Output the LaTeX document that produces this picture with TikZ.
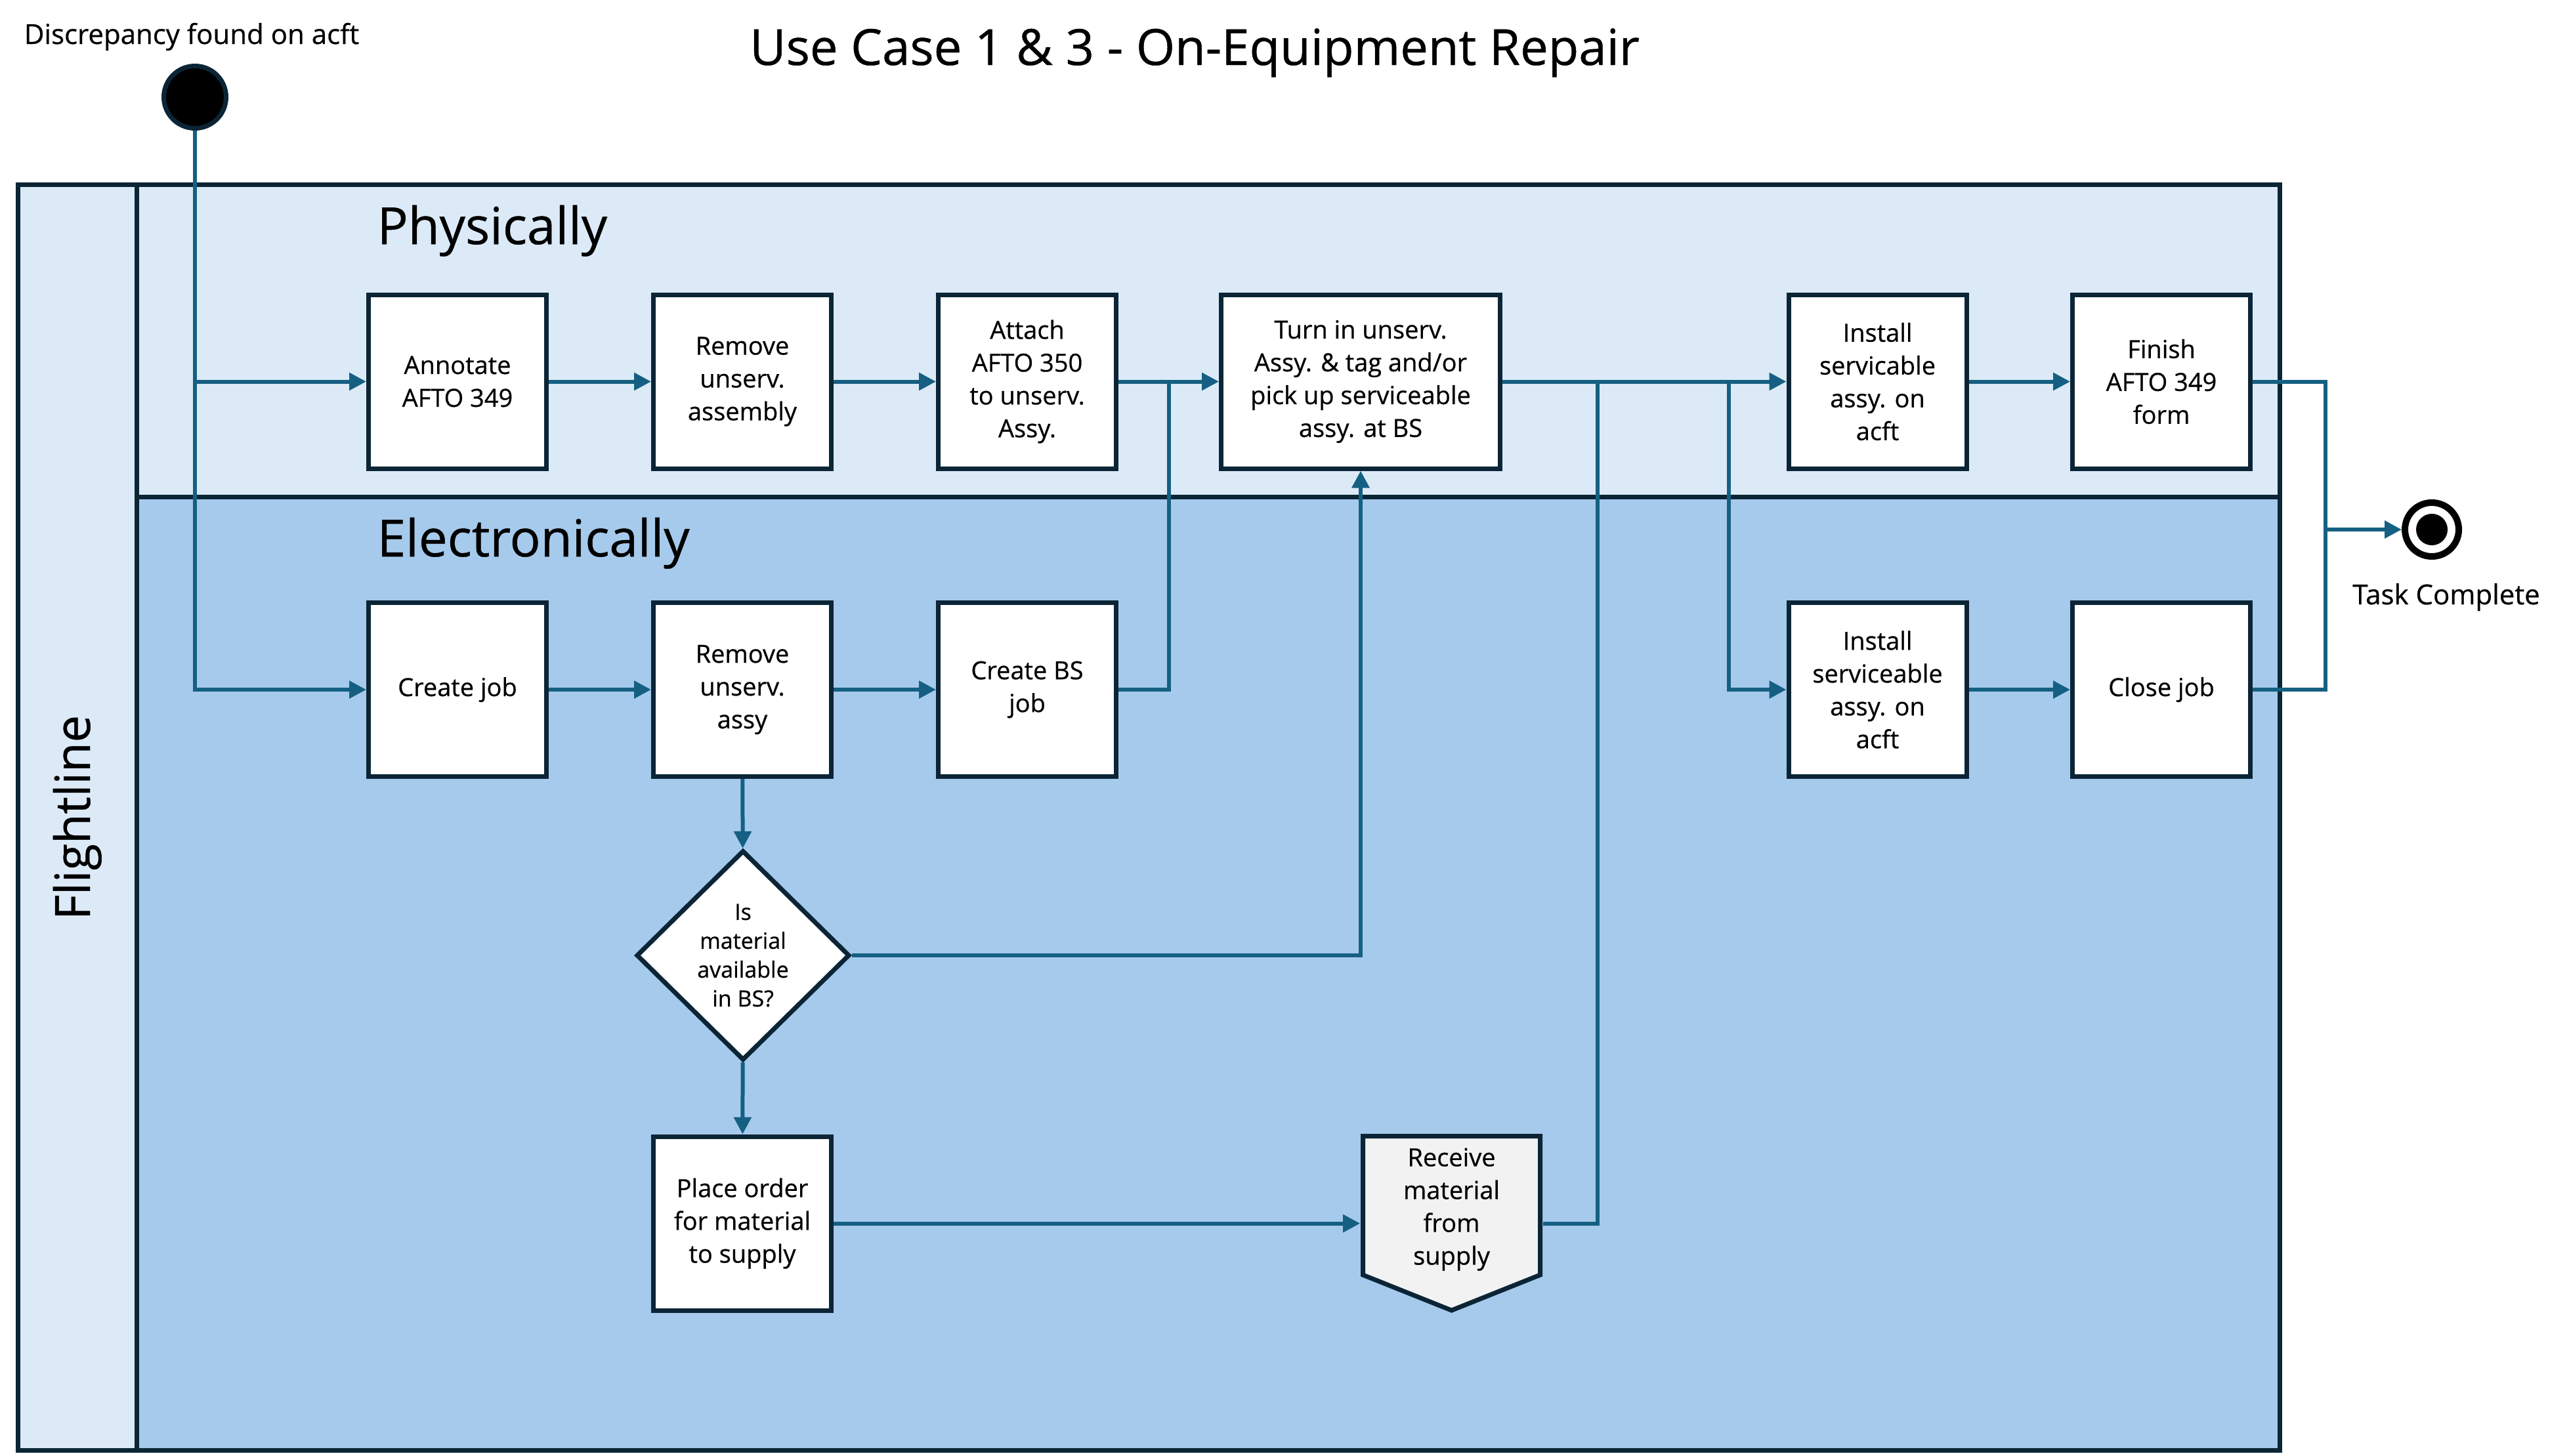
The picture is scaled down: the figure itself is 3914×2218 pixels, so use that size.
\documentclass[tikz,border=0pt]{standalone}
\usepackage{fontspec}
\setmainfont{Open Sans}[FakeBold=0.6]
\usetikzlibrary{arrows.meta,shapes.geometric}
\definecolor{edge}{HTML}{0B2536}
\definecolor{conn}{HTML}{156082}
\definecolor{lanelight}{HTML}{DCEAF7}
\definecolor{lanedark}{HTML}{A6CAEC}
\definecolor{recvfill}{HTML}{F2F2F2}
\tikzset{
  stepbox/.style={draw=edge, line width=1.75pt, fill=white, rectangle, align=center,
    minimum width=67.75pt, minimum height=66.25pt, inner sep=0pt,
    font=\fontsize{9.5}{12.5}\selectfont},
  widebox/.style={stepbox, minimum width=106.25pt},
  decide/.style={draw=edge, line width=1.75pt, fill=white, diamond, align=center,
    minimum width=81.25pt, minimum height=80pt, inner sep=0pt,
    font=\fontsize{8.5}{11}\selectfont},
  conn/.style={draw=conn, line width=1.5pt},
  arr/.style={conn, -{Triangle[length=6.5pt,width=6.5pt]}},
  frame/.style={draw=edge, line width=1.75pt},
  label/.style={font=\fontsize{10.5}{13}\selectfont},
  lanetitle/.style={font=\fontsize{19.5}{23}\selectfont},
}
\begin{document}
\begin{tikzpicture}[x=0.25pt,y=-0.25pt]
\useasboundingbox (0,0) rectangle (3914,2218);
% lanes
\fill[lanelight] (27,281) rectangle (208,2210);
\fill[lanelight] (208,281) rectangle (3473,757);
\fill[lanedark] (208,757) rectangle (3473,2210);
\draw[frame] (27,281) rectangle (3473,2210);
\draw[frame] (208,281) -- (208,2210);
\draw[frame] (208,757) -- (3473,757);
% titles
\node[anchor=base, font=\fontsize{19}{23}\selectfont] (title) at (1820,99) {Use Case 1 \& 3 - On-Equipment Repair};
\node[label, anchor=base] (disc) at (292,67) {Discrepancy found on acft};
\node[lanetitle, anchor=base west, inner sep=0pt] (phys) at (574,372) {Physically};
\node[lanetitle, anchor=base west, inner sep=0pt] (elec) at (574,848) {Electronically};
\node[font=\fontsize{18.5}{22}\selectfont, rotate=90, anchor=base, inner sep=0pt] (flight) at (137,1246) {Flightline};
\node[label, anchor=base] (tasklbl) at (3727,921) {Task Complete};
% start / end
\node[circle, draw=edge, line width=1.75pt, fill=black, minimum size=23.75pt, inner sep=0pt] (start) at (297,148) {};
\node[circle, draw=black, line width=2.5pt, fill=white, minimum size=20.5pt, inner sep=0pt] (endc) at (3705,807) {};
\fill[black] (endc.center) circle[radius=24];
% boxes row 1
\node[stepbox] (annot) at (697,581.5) {Annotate\\AFTO 349};
\node[stepbox] (remove1) at (1131,581.5) {Remove\\unserv.\\assembly};
\node[stepbox] (attach) at (1565,581.5) {Attach\\AFTO 350\\to unserv.\\Assy.};
\node[widebox] (turnin) at (2073,581.5) {Turn in unserv.\\Assy. \& tag and/or\\pick up serviceable\\assy. at BS};
\node[stepbox] (install1) at (2860.5,581.5) {Install\\servicable\\assy. on\\acft};
\node[stepbox] (finish) at (3293,581.5) {Finish\\AFTO 349\\form};
% boxes row 2
\node[stepbox] (createjob) at (697,1051) {Create job};
\node[stepbox] (remove2) at (1131,1051) {Remove\\unserv.\\assy};
\node[stepbox] (createbs) at (1565,1051) {Create BS\\job};
\node[stepbox] (install2) at (2860.5,1051) {Install\\serviceable\\assy. on\\acft};
\node[stepbox] (close) at (3293,1051) {Close job};
% decision and lower boxes
\node[decide] (avail) at (1132,1456) {Is\\material\\available\\in BS?};
\node[stepbox] (order) at (1131,1864.5) {Place order\\for material\\to supply};
\draw[draw=edge, line width=1.75pt, fill=recvfill, line join=miter]
  (2076.5,1731.5) -- (2346.5,1731.5) -- (2346.5,1943) -- (2211.5,1997) -- (2076.5,1943) -- cycle;
\node[rectangle, inner sep=0pt, minimum width=69.25pt, minimum height=40pt, align=center,
  font=\fontsize{9.5}{12.5}\selectfont] (recv) at (2211.5,1843) {Receive\\material\\from\\supply};
% junction coordinates
\coordinate (j1) at (1781,581.5);
\coordinate (j2) at (2434,581.5);
\coordinate (j3) at (2634,581.5);
\coordinate (j4) at (3543,807);
% connectors
\draw[arr] (start.south) |- (createjob.west);
\draw[arr] (start.south |- annot.west) -- (annot.west);
\draw[arr] (annot) -- (remove1);
\draw[arr] (remove1) -- (attach);
\draw[arr] (attach) -- (turnin);
\draw[arr] (createjob) -- (remove2);
\draw[arr] (remove2) -- (createbs);
\draw[conn] (createbs.east) -| (j1);
\draw[arr] (remove2) -- (avail);
\draw[arr] (avail) -- (order);
\draw[arr] (avail.east) -| (turnin.south);
\draw[arr] (order.east) -- (order.east -| recv.west);
\draw[conn] (order.east -| recv.east) -| (j2);
\draw[arr] (turnin) -- (install1);
\draw[arr] (j3) |- (install2.west);
\draw[arr] (install1) -- (finish);
\draw[arr] (install2) -- (close);
\draw[conn] (finish.east) -| (j4);
\draw[conn] (close.east) -| (j4);
\draw[arr] (j4) -- (endc.west);
\end{tikzpicture}
\end{document}
